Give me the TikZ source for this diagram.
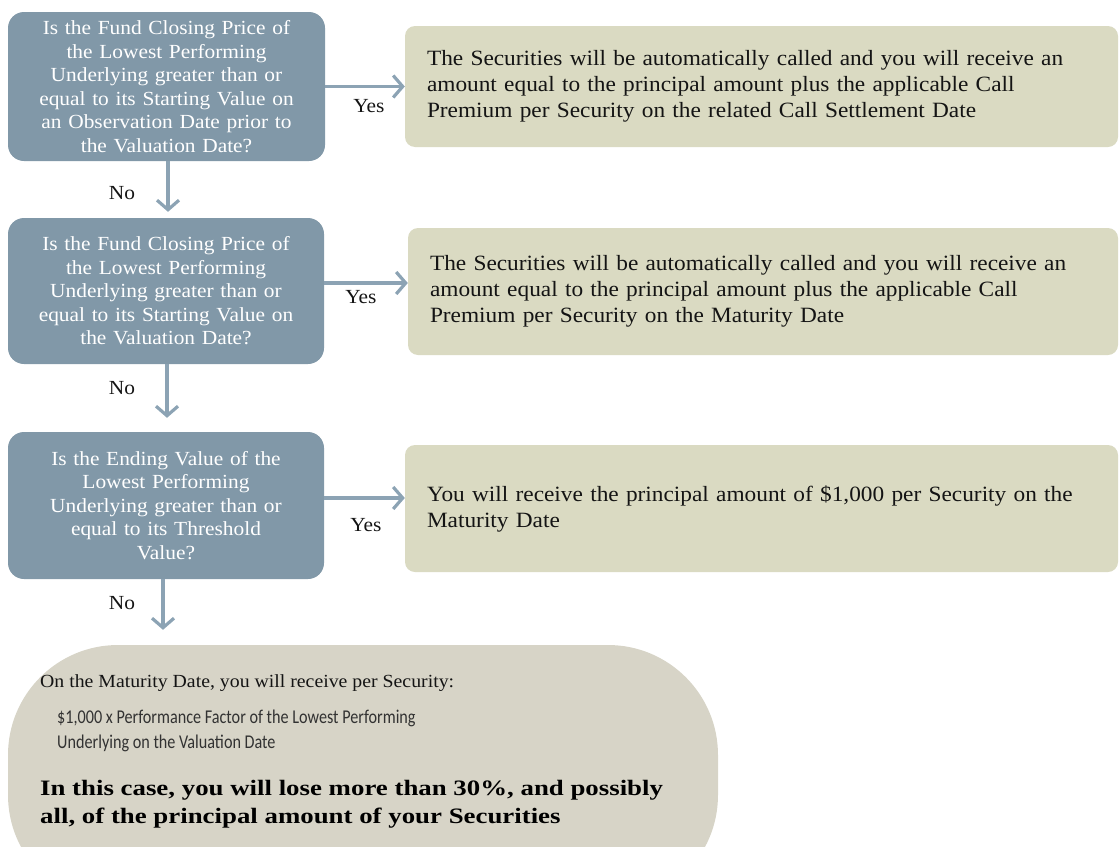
\documentclass[tikz,border=0pt]{standalone}
\usepackage{fontspec}
\setmainfont{Liberation Serif}[FakeStretch=1.07]
\newfontfamily\widebold{Liberation Serif}[FakeStretch=1.22]
\newfontfamily\narrowsans{Carlito}[FakeStretch=0.83]
\usetikzlibrary{arrows.meta}
\definecolor{qblue}{RGB}{129,152,168}
\definecolor{qarrow}{RGB}{140,163,180}
\definecolor{qgreen}{RGB}{218,218,194}
\definecolor{qgrey}{RGB}{215,212,199}
\definecolor{qtext}{RGB}{20,20,20}
\definecolor{qsans}{RGB}{50,50,50}
\begin{document}
\begin{tikzpicture}[x=1pt,y=-1pt,
  qbox/.style={fill=qblue, rounded corners=16pt, text=white, align=center, inner sep=0pt,
    font=\fontsize{20}{23.5}\selectfont, text width=310pt},
  abox/.style={fill=qgreen, rounded corners=10pt, text=qtext, align=left, inner xsep=22pt, inner ysep=0pt,
    font=\fontsize{21.8}{26}\selectfont},
  lbl/.style={text=qtext, font=\fontsize{20}{23}\selectfont, inner sep=0pt},
  conn/.style={draw=qarrow, line width=3.2pt, -{Straight Barb[length=9.5pt,width=22pt,line width=3.2pt]}}
]
\useasboundingbox (0,0) rectangle (1119,846);
\begin{scope}
\clip (0,0) rectangle (1119,846);
\node[fill=qgrey, rounded corners=110pt, minimum width=710pt, minimum height=260pt, inner sep=0pt] (res) at (363,775) {};
\end{scope}

\node[qbox, minimum width=317pt, minimum height=149pt] (q1) at (166.5,86.5)
  {Is the Fund Closing Price of\\the Lowest Performing\\Underlying greater than or\\equal to its Starting Value on\\an Observation Date prior to\\the Valuation Date?};
\node[qbox, minimum width=316pt, minimum height=146pt] (q2) at (166,291)
  {Is the Fund Closing Price of\\the Lowest Performing\\Underlying greater than or\\equal to its Starting Value on\\the Valuation Date?};
\node[qbox, minimum width=316pt, minimum height=147pt] (q3) at (166,505.5)
  {Is the Ending Value of the\\Lowest Performing\\Underlying greater than or\\equal to its Threshold\\Value?};

\node[abox, text width=669pt, minimum height=121pt] (a1) at (761.5,86.5)
  {The Securities will be automatically called and you will receive an\\amount equal to the principal amount plus the applicable Call\\Premium per Security on the related Call Settlement Date};
\node[abox, text width=666pt, minimum height=127pt] (a2) at (763,291.5)
  {The Securities will be automatically called and you will receive an\\amount equal to the principal amount plus the applicable Call\\Premium per Security on the Maturity Date};
\node[abox, text width=669pt, minimum height=127pt] (a3) at (761.5,508.5)
  {You will receive the principal amount of \$1,000 per Security on the\\Maturity Date};

\draw[conn] (q1.east) -- (q1.east -| a1.west);
\draw[conn] ([yshift=8pt]q2.east) -- ([yshift=8pt]q2.east -| a2.west);
\draw[conn] ([yshift=7.5pt]q3.east) -- ([yshift=7.5pt]q3.east -| a3.west);

\draw[conn, shorten >=6pt] ([xshift=1.5pt]q1.south) -- ([xshift=1.5pt]q1.south |- q2.north);
\draw[conn, shorten >=14pt] ([xshift=1pt]q2.south) -- ([xshift=1pt]q2.south |- q3.north);
\draw[conn, shorten >=15pt] ([xshift=-3pt]q3.south) -- ([xshift=-3pt]q3.south |- res.north);

\node[lbl] (y1) at (369,106) {Yes};
\node[lbl] (y2) at (361,297) {Yes};
\node[lbl] (y3) at (366,525) {Yes};
\node[lbl] (n1) at (122,193) {No};
\node[lbl] (n2) at (122,388) {No};
\node[lbl] (n3) at (122,603) {No};

\node[anchor=west, inner sep=0pt, text=qtext, font=\fontsize{18.5}{23}\selectfont] (r1) at (40,683)
  {On the Maturity Date, you will receive per Security:};
\node[anchor=west, inner sep=0pt, text=qsans, align=left, font=\narrowsans\fontsize{19.5}{25.5}\selectfont] (r2) at (57,731)
  {\$1,000 x Performance Factor of the Lowest Performing\\Underlying on the Valuation Date};
\node[anchor=west, inner sep=0pt, text=black, align=left, font=\widebold\bfseries\fontsize{22}{28}\selectfont] (r3) at (40,804)
  {In this case, you will lose more than 30\%, and possibly\\all, of the principal amount of your Securities};
\end{tikzpicture}
\end{document}
